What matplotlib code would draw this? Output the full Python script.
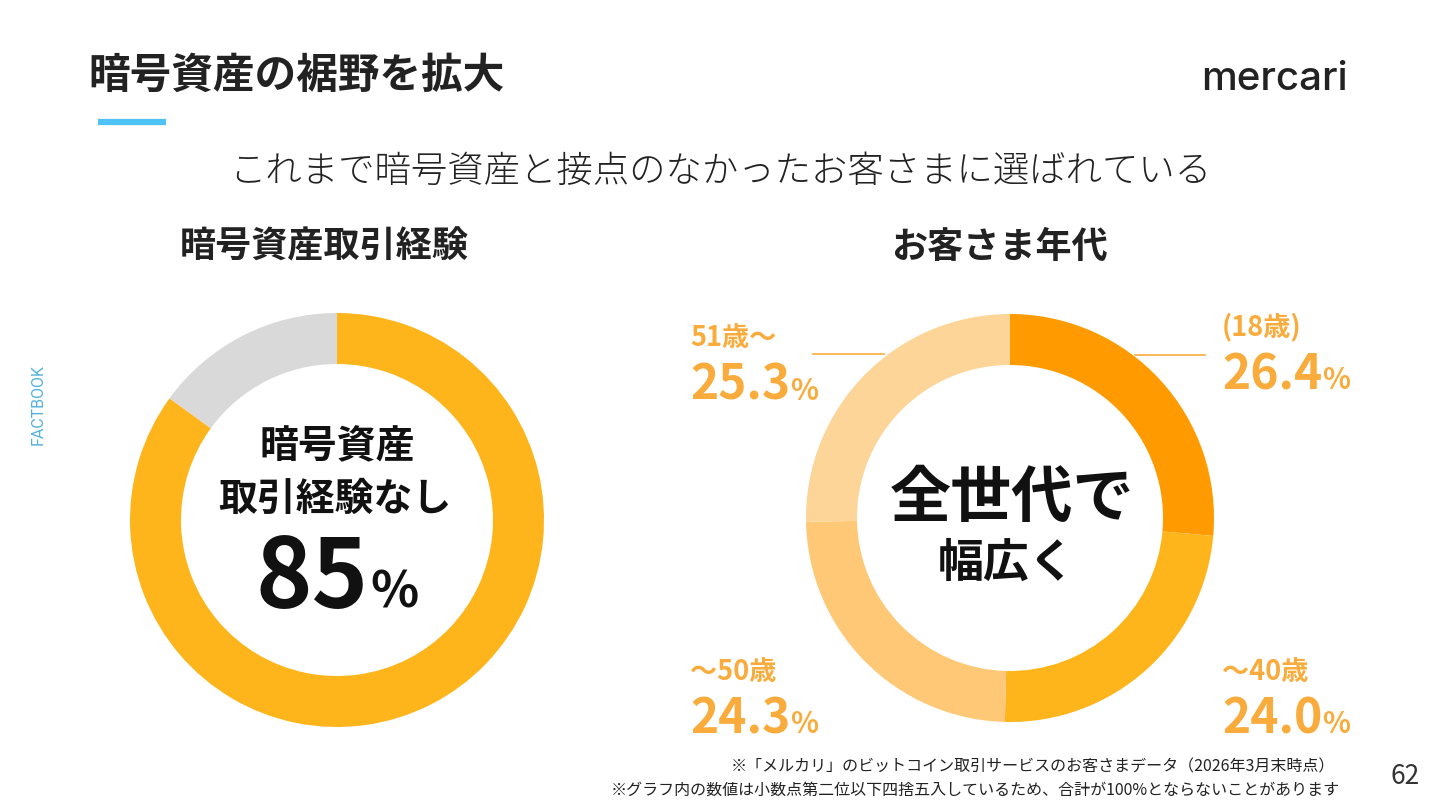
import matplotlib
matplotlib.use("Agg")
import matplotlib.pyplot as plt

plt.rcParams['font.family'] = ['Noto Sans CJK JP', 'DejaVu Sans']

# データ
keiken_labels = ["暗号資産取引経験なし", "経験あり"]
keiken_values = [85, 15]
keiken_colors = ["#FDB51B", "#D9D9D9"]

nendai_labels = ["(18歳)", "〜40歳", "〜50歳", "51歳〜"]
nendai_values = [26.4, 24.0, 24.3, 25.3]
nendai_colors = ["#FF9B00", "#FDB51B", "#FFC877", "#FDD598"]

W, H = 1440, 810
fig = plt.figure(figsize=(14.4, 8.1), dpi=100)
ax = fig.add_axes([0, 0, 1, 1])

def Y(y):
    # 画像座標(上から)を軸座標へ
    return H - y

# ドーナツ
ax.pie(keiken_values, colors=keiken_colors, startangle=90, counterclock=False,
       center=(337, Y(520)), radius=207, wedgeprops=dict(width=51, linewidth=0))
ax.pie(nendai_values, colors=nendai_colors, startangle=90, counterclock=False,
       center=(1010, Y(518)), radius=204, wedgeprops=dict(width=51, linewidth=0))

ax.set_xlim(0, W)
ax.set_ylim(0, H)
ax.set_aspect('equal')
ax.axis('off')

dark = "#222222"
orange = "#F9AB3B"

# タイトル
ax.text(88, Y(76), "暗号資産の裾野を拡大", fontsize=30, fontweight='bold', color=dark,
        ha='left', va='center')
ax.plot([98, 166], [Y(122), Y(122)], color="#4FC3F7", lw=4.5, solid_capstyle='butt')
ax.text(1275, Y(80), "mercari", fontsize=29, fontweight='medium', color=dark,
        family='Inter', ha='center', va='center')
ax.text(38, Y(405), "FACTBOOK", fontsize=11.5, color="#55B2DC", family='Roboto',
        rotation=90, ha='center', va='center')

ax.text(720, Y(172), "これまで暗号資産と接点のなかったお客さまに選ばれている", fontsize=26.2,
        color=dark, ha='center', va='center', fontweight='light')
ax.text(324, Y(247), "暗号資産取引経験", fontsize=26, fontweight='bold', color=dark,
        ha='center', va='center')
ax.text(999, Y(247), "お客さま年代", fontsize=26, fontweight='bold', color=dark,
        ha='center', va='center')

# 中央テキスト
ax.text(337, Y(447), "暗号資産", fontsize=28, fontweight='bold', color="#111111",
        ha='center', va='center')
ax.text(335, Y(499), "取引経験なし", fontsize=28, fontweight='bold', color="#111111",
        ha='center', va='center')
ax.text(1012, Y(499), "全世代で", fontsize=44, fontweight='bold', color="#111111",
        ha='center', va='center')
ax.text(1007, Y(564), "幅広く", fontsize=33, fontweight='bold', color="#111111",
        ha='center', va='center')

renderer = fig.canvas.get_renderer()

def num_pct(x, y, num, size, pct_size, color, ha='left', gap=0):
    t = ax.text(x, Y(y), num, fontsize=size, fontweight='bold', color=color,
                ha='left', va='baseline')
    bb = t.get_window_extent(renderer)
    p = ax.text(x + bb.width + gap, Y(y), "%", fontsize=pct_size, fontweight='bold',
                color=color, ha='left', va='baseline')
    if ha == 'center':
        pb = p.get_window_extent(renderer)
        total = bb.width + gap + pb.width
        t.set_x(x - total / 2)
        p.set_x(x - total / 2 + bb.width + gap)

num_pct(337, 608, "85", 69, 36, "#111111", ha='center', gap=2)

# 年代ラベル
label_pos = {
    "(18歳)": (1222, 327, 389),
    "〜40歳": (1222, 672, 733),
    "〜50歳": (690, 672, 733),
    "51歳〜": (690, 338, 400),
}
for lab, val in zip(nendai_labels, nendai_values):
    x, ylab, ynum = label_pos[lab]
    ax.text(x, Y(ylab), lab, fontsize=19.5, fontweight='bold', color=orange,
            ha='left', va='center')
    num_pct(x, ynum, f"{val:.1f}", 34.5, 21, orange)

# 引き出し線
ax.plot([813, 884], [Y(354), Y(354)], color=orange, lw=1.2)
ax.plot([1135, 1205], [Y(355), Y(355)], color=orange, lw=1.2)

# 注記
ax.text(1335, Y(767), "※「メルカリ」のビットコイン取引サービスのお客さまデータ（2026年3月末時点）",
        fontsize=11.5, color=dark, ha='right', va='center')
ax.text(1340, Y(790), "※グラフ内の数値は小数点第二位以下四捨五入しているため、合計が100%とならないことがあります",
        fontsize=11.5, color=dark, ha='right', va='center')
ax.text(1405, Y(776), "62", fontsize=19, color="#333333", ha='center', va='center')

fig.savefig("out.png", dpi=100, facecolor='white')
